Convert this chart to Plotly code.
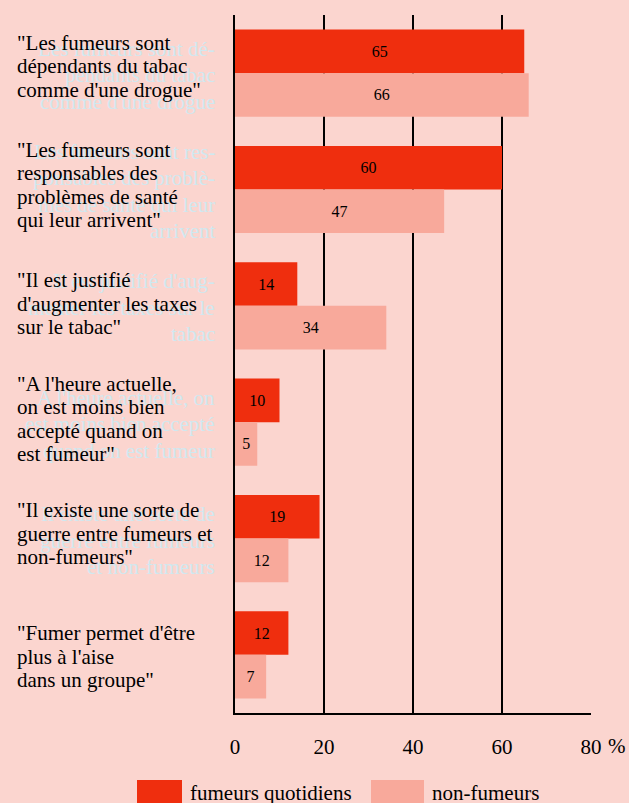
import plotly.graph_objects as go

categories = ["c1", "c2", "c3", "c4", "c5", "c6"]
label_lines = [
    ['"Les fumeurs sont', 'dépendants du tabac', 'comme d\'une drogue"'],
    ['"Les fumeurs sont', 'responsables des', 'problèmes de santé', 'qui leur arrivent"'],
    ['"Il est justifié', 'd\'augmenter les taxes', 'sur le tabac"'],
    ['"A l\'heure actuelle,', 'on est moins bien', 'accepté quand on', 'est fumeur"'],
    ['"Il existe une sorte de', 'guerre entre fumeurs et', 'non-fumeurs"'],
    ['"Fumer permet d\'être', 'plus à l\'aise', 'dans un groupe"'],
]
ghost_lines = [
    ['Les fumeurs sont dé-', 'pendants du tabac', 'comme d\'une drogue'],
    ['Les fumeurs sont res-', 'ponsables des problè-', 'mes de santé qui leur', 'arrivent'],
    ['Il est justifié d\'aug-', 'menter les taxes sur le', 'tabac'],
    ['A l\'heure actuelle, on', 'est moins bien accepté', 'quand on est fumeur'],
    ['Il existe une sorte de', 'guerre entre fumeurs', 'et non-fumeurs'],
    [],
]
daily_smokers = [65, 60, 14, 10, 19, 12]
non_smokers = [66, 47, 34, 5, 12, 7]
series_names = ["fumeurs quotidiens", "non-fumeurs"]
tick_vals = [0, 20, 40, 60, 80]
tick_text = ["0", "20", "40", "60", "80"]

FONT = "Liberation Serif"
RED = "#EF2E0E"
PINK = "#F8A99B"
BG = "#FBD5CF"
GHOST = "#D0E8F0"

W, H = 629, 803
ML, MR, MT, MB = 235, 38, 15, 90
PW = W - ML - MR
PH = H - MT - MB


def px_x(px):
    return (px - ML) / PW


def px_y(py):
    return (H - MB - py) / PH


fig = go.Figure()
for name, vals, col in [(series_names[0], daily_smokers, RED), (series_names[1], non_smokers, PINK)]:
    fig.add_trace(go.Bar(
        y=categories, x=vals, orientation="h", name=name,
        marker=dict(color=col, line=dict(width=0)),
        text=[str(v) for v in vals], textposition="inside",
        insidetextanchor="middle", textangle=0,
        textfont=dict(family=FONT, size=16, color="black"),
        showlegend=False, hoverinfo="skip",
    ))

annotations = []
ghost_shift = -2
ghost_spacing = 26.5
for cat, lines in zip(categories, ghost_lines):
    n = len(lines)
    for j, ln in enumerate(lines):
        annotations.append(dict(
            xref="paper", yref="y", x=px_x(217), y=cat, xanchor="right", yanchor="middle",
            text=ln, showarrow=False, yshift=ghost_shift - (j - (n - 1) / 2) * ghost_spacing,
            font=dict(family=FONT, size=21, color=GHOST),
        ))

label_shift = [6.7, 4.5, 2.3, 3.2, 5.0, -1.7]
label_spacing = 23.5
for cat, lines, sh in zip(categories, label_lines, label_shift):
    n = len(lines)
    for j, ln in enumerate(lines):
        annotations.append(dict(
            xref="paper", yref="y", x=px_x(15), y=cat, xanchor="left", yanchor="middle",
            text=ln, showarrow=False, yshift=sh - (j - (n - 1) / 2) * label_spacing,
            font=dict(family=FONT, size=21, color="black"),
        ))

annotations.append(dict(
    xref="x", yref="paper", x=80, y=px_y(746), xanchor="left", yanchor="middle",
    text="%", showarrow=False, xshift=15,
    font=dict(family=FONT, size=21, color="black"),
))
annotations.append(dict(
    xref="paper", yref="paper", x=px_x(188), y=px_y(793), xanchor="left", yanchor="middle",
    text=series_names[0], showarrow=False,
    font=dict(family=FONT, size=21, color="black"),
))
annotations.append(dict(
    xref="paper", yref="paper", x=px_x(430), y=px_y(793), xanchor="left", yanchor="middle",
    text=series_names[1], showarrow=False,
    font=dict(family=FONT, size=21, color="black"),
))

shapes = [
    dict(type="rect", xref="paper", yref="paper", x0=px_x(137), x1=px_x(182),
         y0=px_y(780), y1=px_y(815), fillcolor=RED, line=dict(width=0)),
    dict(type="rect", xref="paper", yref="paper", x0=px_x(371), x1=px_x(424),
         y0=px_y(780), y1=px_y(815), fillcolor=PINK, line=dict(width=0)),
]

fig.update_layout(
    width=W, height=H,
    margin=dict(l=ML, r=MR, t=MT, b=MB, pad=0),
    paper_bgcolor=BG, plot_bgcolor=BG,
    barmode="group", bargap=0.25, bargroupgap=0,
    uniformtext=dict(mode=False),
    font=dict(family=FONT, size=21, color="black"),
    annotations=annotations, shapes=shapes,
    showlegend=False,
    xaxis=dict(
        range=[0, 80], tickvals=tick_vals, ticktext=tick_text,
        showgrid=True, gridcolor="black", gridwidth=1.5,
        zeroline=False, showline=True, linecolor="black", linewidth=1.5,
        ticks="", ticklabelstandoff=14,
        tickfont=dict(family=FONT, size=21, color="black"),
        fixedrange=True,
    ),
    yaxis=dict(
        autorange="reversed", showticklabels=False, ticks="",
        showgrid=False, zeroline=False, showline=True, linecolor="black", linewidth=1.5,
        fixedrange=True,
    ),
)

fig.write_html(
    "out.html",
    config={"displayModeBar": False},
    post_script="document.body.style.margin='0';document.body.style.overflow='hidden';document.body.style.background='" + BG + "';",
)
